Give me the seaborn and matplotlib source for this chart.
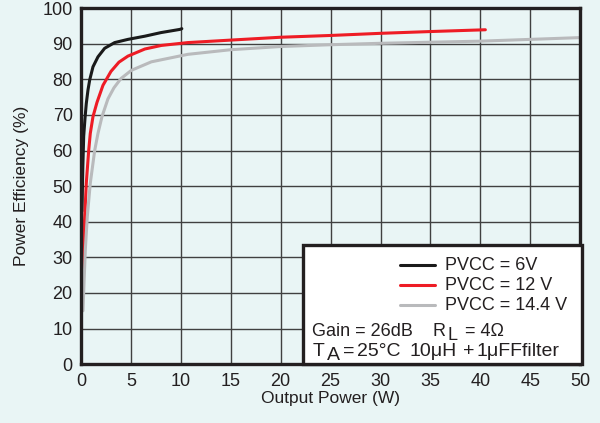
import numpy as np
import pandas as pd
import matplotlib
matplotlib.use("Agg")
import matplotlib.pyplot as plt
import seaborn as sns
from matplotlib.patches import Rectangle

# ---- data ----
x_6v = [0.1, 0.18, 0.27, 0.4, 0.53, 0.7, 0.87, 1.2, 1.7, 2.37, 3.37, 4.7, 6.4, 8.0, 9.9, 10.1]
y_6v = [43, 55, 64, 69, 73.2, 77, 79.8, 83.5, 86.3, 88.7, 90.3, 91.2, 92.1, 93.1, 94.0, 94.2]

x_12v = [0.15, 0.23, 0.37, 0.53, 0.77, 0.93, 1.2, 1.6, 2.2, 3.0, 3.8, 4.7, 6.4, 8.05, 10.7,
         15, 20, 25, 30, 35, 40.5]
y_12v = [27, 32, 41.4, 50.8, 60, 64.8, 69.5, 73.5, 78.3, 82.2, 84.8, 86.5, 88.5, 89.5, 90.3,
         91, 91.8, 92.3, 92.9, 93.4, 93.9]

x_144v = [0.2, 0.3, 0.43, 0.63, 0.93, 1.37, 1.7, 2.1, 2.7, 3.3, 4.0, 5.04, 7.05, 10.7,
          15, 20, 25, 30, 35, 40, 45, 50]
y_144v = [15, 22.6, 32, 41.4, 50.8, 60, 64.8, 69.5, 74.5, 77.6, 80.2, 82.5, 84.9, 87,
          88.3, 89.2, 89.7, 90.1, 90.4, 90.7, 91.2, 91.7]

series_names = ["PVCC = 6V", "PVCC = 12 V", "PVCC = 14.4 V"]
series_colors = ["#1a1a1a", "#ee1c25", "#b9babc"]
x_ticks = [0, 5, 10, 15, 20, 25, 30, 35, 40, 45, 50]
y_ticks = [0, 10, 20, 30, 40, 50, 60, 70, 80, 90, 100]

frames = []
for name, xs, ys in zip(series_names, [x_6v, x_12v, x_144v], [y_6v, y_12v, y_144v]):
    frames.append(pd.DataFrame({"P": xs, "Eff": ys, "Series": name}))
df = pd.concat(frames, ignore_index=True)

bg = "#e9f5f5"
ink = "#231f20"
sns.set_style("white")
plt.rcParams["font.family"] = ["Liberation Sans", "DejaVu Sans"]

fig = plt.figure(figsize=(6.0, 4.23), dpi=100, facecolor=bg)
ax = fig.add_axes([0.135, 0.139, 0.832, 0.842])
ax.set_facecolor(bg)

sns.lineplot(data=df, x="P", y="Eff", hue="Series", hue_order=series_names,
             palette=series_colors, sort=False, estimator=None, linewidth=2.2,
             ax=ax, legend=False, zorder=3)

ax.set_xlim(0, 50)
ax.set_ylim(0, 100)
ax.set_xticks(x_ticks)
ax.set_yticks(y_ticks)
ax.tick_params(axis="both", length=0, labelsize=13, colors=ink, pad=6)
ax.grid(True, color="#404040", linewidth=1.0)
ax.set_axisbelow(True)
for s in ax.spines.values():
    s.set_linewidth(2.4)
    s.set_color(ink)
    s.set_zorder(5)

ax.set_xlabel("Output Power (W)", fontsize=12.5, color=ink, labelpad=1)
ax.set_ylabel("Power Efficiency (%)", fontsize=12.5, color=ink, labelpad=10)

# annotation box
box = Rectangle((0.445, 0.0), 0.559, 0.334, transform=ax.transAxes,
                facecolor="white", edgecolor=ink, linewidth=2.4,
                zorder=6, clip_on=False)
ax.add_patch(box)

row_y = [0.278, 0.222, 0.166]
for name, col, yy in zip(series_names, series_colors, row_y):
    ax.plot([0.64, 0.71], [yy, yy], transform=ax.transAxes, color=col,
            linewidth=2.2, zorder=7, clip_on=False)
    ax.text(0.73, yy, name, transform=ax.transAxes, fontsize=13,
            va="center", ha="left", color=ink, zorder=7)

sub_drop = 0.011
y1, y2 = 0.080, 0.024
tx = dict(transform=ax.transAxes, fontsize=13, va="baseline", ha="left",
          color=ink, zorder=7)
# line 1: Gain=26dB  R_L =4Ω
ax.text(0.463, y1, "Gain = 26dB", **tx)
ax.text(0.705, y1, "R", **tx)
ax.text(0.734, y1 - sub_drop, "L", **tx)
ax.text(0.770, y1, "= 4Ω", **tx)
# line 2: T_A=25°C 10μH+1μFFfilter
tx2 = dict(tx, fontsize=14)
ax.text(0.463, y2, "T", **tx2)
ax.text(0.492, y2 - sub_drop, "A", **tx2)
ax.text(0.525, y2, "=", **tx2)
ax.text(0.553, y2, "25°C", **tx2)
ax.text(0.659, y2, "10μH", **tx2)
ax.text(0.765, y2, "+", **tx2)
ax.text(0.792, y2, "1μFFfilter", **tx2)

fig.savefig("out.png", dpi=100, facecolor=bg)
